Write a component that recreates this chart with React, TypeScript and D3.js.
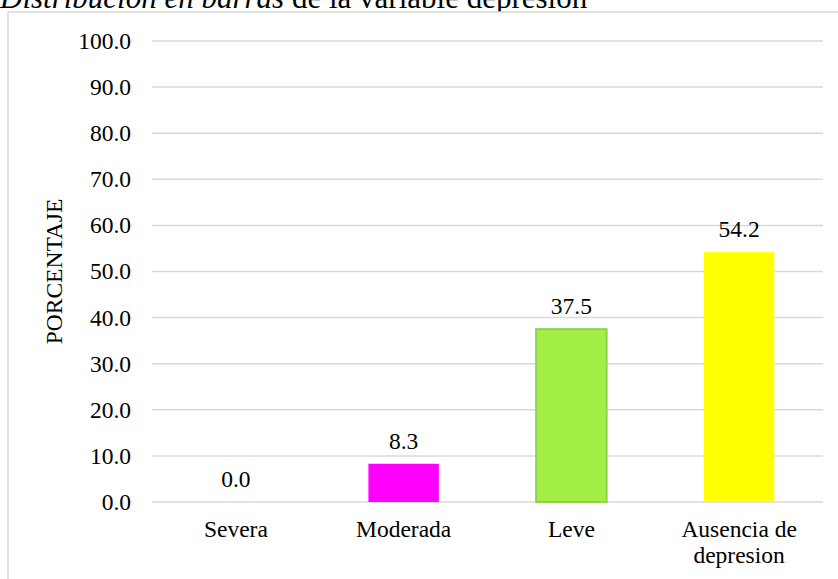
import React from "react";
import * as d3 from "d3";

const categories = ["Severa", "Moderada", "Leve", "Ausencia de depresion"];
const categoryLines = [["Severa"], ["Moderada"], ["Leve"], ["Ausencia de", "depresion"]];
const percentages = [0.0, 8.3, 37.5, 54.2];
const barColors = ["#ff00ff", "#ff00ff", "#a3ef45", "#ffff00"];
const barStrokes = ["none", "none", "#8fd14f", "none"];
const yTicks = [0, 10, 20, 30, 40, 50, 60, 70, 80, 90, 100];

const W = 838;
const H = 579;
const FONT = "Liberation Serif";

export default function App() {
  const x = d3
    .scaleBand<string>()
    .domain(categories)
    .range([152, 823])
    .paddingInner(0.58)
    .paddingOuter(0.29);
  const y = d3.scaleLinear().domain([0, 100]).range([502, 41]);
  const fmt = d3.format(".1f");
  const txt = { fontFamily: FONT, fontSize: 23.5, fill: "#000" } as const;

  return (
    <svg
      width={W}
      height={H}
      style={{ position: "absolute", left: 0, top: 0, background: "#fff", fontFamily: FONT }}
    >
      {/* title, partly above the visible area */}
      <text x={0} y={8} style={{ fontFamily: FONT, fontSize: 31, fill: "#000" }}>
        <tspan fontStyle="italic">Distribución en barras</tspan>
        <tspan> de la variable depresión</tspan>
      </text>

      {/* chart frame */}
      <rect x={8} y={12} width={W + 20} height={H + 20} fill="#fff" stroke="#d9d9d9" strokeWidth={1.5} />

      {/* gridlines and value axis */}
      {yTicks.map((t) => (
        <g key={t}>
          <line x1={152} x2={823} y1={y(t)} y2={y(t)} stroke="#d9d9d9" strokeWidth={1.5} />
          <text x={131} y={y(t)} dy="0.34em" textAnchor="end" style={txt}>
            {fmt(t)}
          </text>
        </g>
      ))}

      <text
        transform={`translate(${62},${y(50)}) rotate(-90)`}
        textAnchor="middle"
        style={txt}
      >
        PORCENTAJE
      </text>

      {/* bars */}
      {categories.map((c, i) => {
        const v = percentages[i];
        const x0 = x(c)!;
        const bw = x.bandwidth();
        const cx = x0 + bw / 2;
        return (
          <g key={c}>
            {v > 0 && (
              <rect
                x={x0}
                y={y(v)}
                width={bw}
                height={y(0) - y(v)}
                fill={barColors[i]}
                stroke={barStrokes[i]}
                strokeWidth={barStrokes[i] === "none" ? 0 : 2}
              />
            )}
            <text x={cx} y={y(v) - 15} textAnchor="middle" style={txt}>
              {fmt(v)}
            </text>
            <text x={cx} y={537} textAnchor="middle" style={txt}>
              {categoryLines[i].map((line, k) => (
                <tspan key={k} x={cx} dy={k === 0 ? 0 : 26}>
                  {line}
                </tspan>
              ))}
            </text>
          </g>
        );
      })}
    </svg>
  );
}
